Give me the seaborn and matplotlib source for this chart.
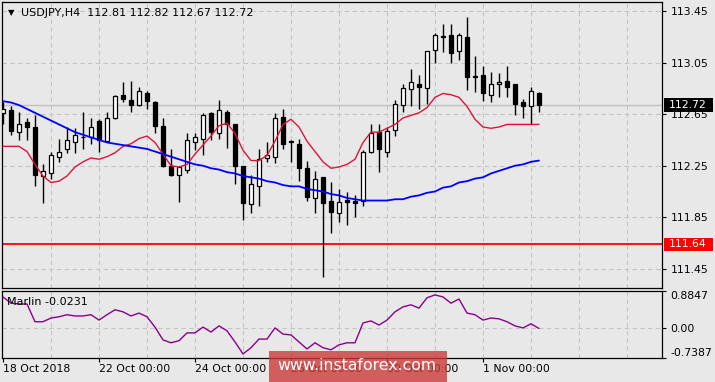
import numpy as np
import pandas as pd
import matplotlib
matplotlib.use("Agg")
import matplotlib.pyplot as plt
import matplotlib.transforms as mtransforms
from matplotlib.patches import Rectangle
import seaborn as sns

# ---------------- data ----------------
symbol_title = "USDJPY,H4  112.81 112.82 112.67 112.72"

opens = [112.66, 112.68, 112.51, 112.59, 112.55, 112.17, 112.19, 112.32, 112.38, 112.43,
         112.47, 112.47, 112.60, 112.44, 112.62, 112.80, 112.76, 112.72, 112.81, 112.74,
         112.56, 112.25, 112.18, 112.22, 112.43, 112.46, 112.66, 112.50, 112.67, 112.57,
         112.25, 111.95, 112.09, 112.31, 112.32, 112.63, 112.44, 112.42, 112.23, 112.00,
         112.16, 111.98, 111.88, 111.985, 111.98, 111.98, 112.36, 112.51, 112.36, 112.53,
         112.72, 112.845, 112.88, 112.85, 113.15, 113.25, 113.26, 113.14, 113.25, 112.94,
         112.95, 112.80, 112.88, 112.91, 112.88, 112.74, 112.71, 112.81]
highs = [112.74, 112.71, 112.67, 112.62, 112.64, 112.26, 112.36, 112.46, 112.55, 112.54,
         112.67, 112.62, 112.61, 112.67, 112.80, 112.90, 112.91, 112.86, 112.83, 112.75,
         112.62, 112.38, 112.25, 112.50, 112.50, 112.66, 112.67, 112.76, 112.68, 112.57,
         112.25, 112.18, 112.38, 112.43, 112.66, 112.69, 112.45, 112.46, 112.29, 112.21,
         112.16, 112.12, 112.07, 112.05, 112.02, 112.37, 112.57, 112.57, 112.55, 112.76,
         112.88, 113.00, 112.95, 113.14, 113.28, 113.35, 113.35, 113.28, 113.40, 113.10,
         113.02, 112.98, 112.97, 113.02, 112.88, 112.77, 112.86, 112.82]
lows = [112.57, 112.49, 112.45, 112.45, 112.09, 111.96, 112.15, 112.28, 112.35, 112.35,
        112.38, 112.42, 112.36, 112.43, 112.61, 112.74, 112.67, 112.71, 112.69, 112.50,
        112.24, 112.17, 111.97, 112.19, 112.37, 112.33, 112.45, 112.46, 112.39, 112.11,
        111.83, 111.88, 111.94, 112.28, 112.27, 112.38, 112.28, 112.13, 111.98, 111.88,
        111.39, 111.73, 111.81, 111.79, 111.85, 111.94, 112.35, 112.20, 112.32, 112.48,
        112.67, 112.71, 112.69, 112.73, 113.05, 113.13, 113.05, 113.07, 112.84, 112.82,
        112.75, 112.74, 112.78, 112.78, 112.64, 112.62, 112.57, 112.67]
closes = [112.69, 112.52, 112.57, 112.55, 112.18, 112.21, 112.33, 112.36, 112.45, 112.49,
          112.47, 112.55, 112.45, 112.62, 112.79, 112.77, 112.72, 112.83, 112.75, 112.56,
          112.25, 112.18, 112.24, 112.45, 112.47, 112.64, 112.51, 112.68, 112.57, 112.25,
          111.96, 112.11, 112.30, 112.33, 112.62, 112.42, 112.43, 112.23, 112.01, 112.15,
          111.96, 111.89, 111.97, 111.97, 111.96, 112.36, 112.50, 112.38, 112.52, 112.73,
          112.85, 112.90, 112.86, 113.14, 113.26, 113.25, 113.12, 113.26, 112.94, 112.94,
          112.81, 112.88, 112.90, 112.86, 112.73, 112.71, 112.83, 112.72]
ma_fast = [112.40, 112.40, 112.40, 112.36, 112.26, 112.17, 112.12, 112.13, 112.17, 112.24,
           112.28, 112.31, 112.30, 112.32, 112.35, 112.40, 112.42, 112.46, 112.48, 112.43,
           112.34, 112.25, 112.24, 112.26, 112.34, 112.41, 112.48, 112.56, 112.58, 112.50,
           112.37, 112.29, 112.29, 112.33, 112.44, 112.57, 112.61, 112.55, 112.44, 112.36,
           112.28, 112.23, 112.24, 112.26, 112.30, 112.43, 112.51, 112.51, 112.54, 112.57,
           112.62, 112.64, 112.66, 112.70, 112.78, 112.81, 112.80, 112.78, 112.71, 112.61,
           112.55, 112.54, 112.55, 112.57, 112.57, 112.57, 112.57, 112.57]
ma_slow = [112.75, 112.74, 112.72, 112.69, 112.66, 112.63, 112.60, 112.57, 112.54, 112.51,
           112.49, 112.47, 112.45, 112.43, 112.42, 112.41, 112.40, 112.39, 112.38, 112.36,
           112.34, 112.32, 112.30, 112.28, 112.26, 112.25, 112.23, 112.22, 112.20, 112.19,
           112.17, 112.16, 112.15, 112.13, 112.12, 112.10, 112.09, 112.09, 112.07, 112.06,
           112.05, 112.03, 112.02, 112.00, 111.99, 111.98, 111.98, 111.98, 111.98, 111.99,
           111.99, 112.01, 112.02, 112.04, 112.05, 112.08, 112.09, 112.12, 112.13, 112.15,
           112.16, 112.19, 112.21, 112.23, 112.25, 112.26, 112.28, 112.29]
marlin = [0.74, 0.59, 0.57, 0.57, 0.14, 0.14, 0.23, 0.26, 0.31, 0.28,
          0.28, 0.31, 0.18, 0.31, 0.43, 0.38, 0.28, 0.35, 0.26, 0.01,
          -0.30, -0.37, -0.32, -0.13, -0.13, 0.01, -0.11, 0.04, -0.08, -0.35,
          -0.64, -0.49, -0.28, -0.28, -0.01, -0.16, -0.18, -0.35, -0.52, -0.37,
          -0.49, -0.54, -0.42, -0.37, -0.37, 0.11, 0.16, 0.06, 0.18, 0.38,
          0.50, 0.55, 0.47, 0.72, 0.79, 0.74, 0.59, 0.69, 0.35, 0.31,
          0.18, 0.23, 0.21, 0.14, 0.04, -0.01, 0.09, -0.0231]

date_labels = ["18 Oct 2018", "22 Oct 00:00", "24 Oct 00:00", "26 Oct 00:00",
               "30 Oct 00:00", "1 Nov 00:00"]
date_label_bars = [0, 12, 24, 36, 48, 60]
price_ticks = [113.45, 113.05, 112.65, 112.25, 111.85, 111.45]
level_line = 111.64
marlin_ticks = [0.8847, 0.00, -0.7387]
marlin_tick_labels = ["0.8847", "0.00", "-0.7387"]

df = pd.DataFrame({"bar": np.arange(len(opens)), "open": opens, "high": highs,
                   "low": lows, "close": closes, "ma_fast": ma_fast,
                   "ma_slow": ma_slow, "marlin": marlin})

# ---------------- style / layout ----------------
sns.set_style("ticks")
plt.rcParams["font.family"] = ["DejaVu Sans"]
BG = "#e8e8e8"
GRID = "#c4c4c4"
W, H = 715, 382
fig = plt.figure(figsize=(W / 100, H / 100), dpi=100, facecolor=BG)


def px_axes(x0, y0, x1, y1):
    return fig.add_axes([x0 / W, 1 - y1 / H, (x1 - x0) / W, (y1 - y0) / H])


ax = px_axes(2, 2, 662, 288)
ax2 = px_axes(2, 291, 662, 358)
XLIM = (-0.125, 82.375)

for a in (ax, ax2):
    a.set_facecolor(BG)
    for s in a.spines.values():
        s.set_color("black")
        s.set_linewidth(0.9)
    for k in range(1, 14):
        a.axvline(6 * k, color=GRID, lw=0.8, ls=(0, (4, 3)), zorder=1)

# ---------------- main price panel ----------------
for t in price_ticks:
    ax.axhline(t, color=GRID, lw=0.8, ls=(0, (4, 3)), zorder=1)
ax.axhline(df.close.iloc[-1], color="#c0c0c0", lw=1.0, zorder=1.5)
ax.axhline(level_line, color="#ff0000", lw=1.3, zorder=2)

up = df.close >= df.open
body_low = np.minimum(df.open, df.close)
body_h = np.maximum((df.close - df.open).abs(), 0.002)
ax.vlines(df.bar, df.low, df.high, color="black", lw=1.0, zorder=3)
ax.bar(df.bar, body_h, bottom=body_low, width=0.52,
       color=np.where(up, "white", "black"), edgecolor="black", linewidth=0.9, zorder=4)

sns.lineplot(data=df, x="bar", y="ma_fast", color="#dc143c", lw=1.0, ax=ax, zorder=5)
sns.lineplot(data=df, x="bar", y="ma_slow", color="#0000ff", lw=1.3, ax=ax, zorder=5)

ax.set_xlim(*XLIM)
ax.set_ylim(111.302, 113.519)
ax.set_xlabel("")
ax.set_ylabel("")
ax.set_xticks([])
ax.yaxis.tick_right()
ax.set_yticks(price_ticks)
ax.set_yticklabels([f"{t:.2f}" for t in price_ticks])
ax.tick_params(axis="y", length=3, width=0.8, color="black", pad=3,
               labelsize=7.8, labelcolor="black")

trans = mtransforms.blended_transform_factory(ax.transAxes, ax.transData)
for val, fc in ((df.close.iloc[-1], "black"), (level_line, "#ff0000")):
    ax.add_patch(Rectangle((1.003, val - 0.052), 0.0745, 0.104, transform=trans,
                           fc=fc, ec="none", clip_on=False, zorder=10))
    ax.text(1.0105, val, f"{val:.2f}", transform=trans, color="white",
            fontsize=7.8, va="center", ha="left", zorder=11, clip_on=False)

# ---------------- Marlin panel ----------------
ax2.axhline(0, color=GRID, lw=0.8, ls=(0, (4, 3)), zorder=1)
sns.lineplot(data=df, x="bar", y="marlin", color="#8b008b", lw=1.0, ax=ax2, zorder=5)
ax2.set_xlim(*XLIM)
ax2.set_ylim(-0.7387, 0.8847)
ax2.set_xlabel("")
ax2.set_ylabel("")
ax2.yaxis.tick_right()
ax2.set_yticks(marlin_ticks)
ax2.set_yticklabels(marlin_tick_labels)
ax2.tick_params(axis="y", length=3, width=0.8, color="black", pad=3,
                labelsize=7.8, labelcolor="black")
for lab in ax2.get_yticklabels():
    if lab.get_text() == "0.8847":
        lab.set_verticalalignment("top")
    elif lab.get_text() == "-0.7387":
        lab.set_verticalalignment("bottom")
ax2.set_xticks(date_label_bars)
ax2.set_xticklabels(date_labels)
ax2.tick_params(axis="x", length=3, width=0.8, color="black", pad=1.5,
                labelsize=7.8, labelcolor="black")
for lab in ax2.get_xticklabels():
    lab.set_horizontalalignment("left")

# ---------------- texts ----------------
fig.text(8 / W, 1 - 12.5 / H, "\u25bc", fontsize=6, va="center", ha="left", color="black")
fig.text(21 / W, 1 - 12.5 / H, symbol_title, fontsize=8, va="center", ha="left",
         color="black")
fig.text(7 / W, 1 - 302 / H, f"Marlin {marlin[-1]:.4f}", fontsize=8, va="center",
         ha="left", color="black")

# watermark
fig.patches.append(Rectangle((269 / W, 0), 178 / W, 31 / H, transform=fig.transFigure,
                             fc="#cc3a3a", alpha=0.8, ec="none", zorder=20))
fig.text(357 / W, 1 - 366 / H, "www.instaforex.com", color="white", fontsize=11.3,
         ha="center", va="center", zorder=21)

fig.savefig("out.png", dpi=100, facecolor=BG)
